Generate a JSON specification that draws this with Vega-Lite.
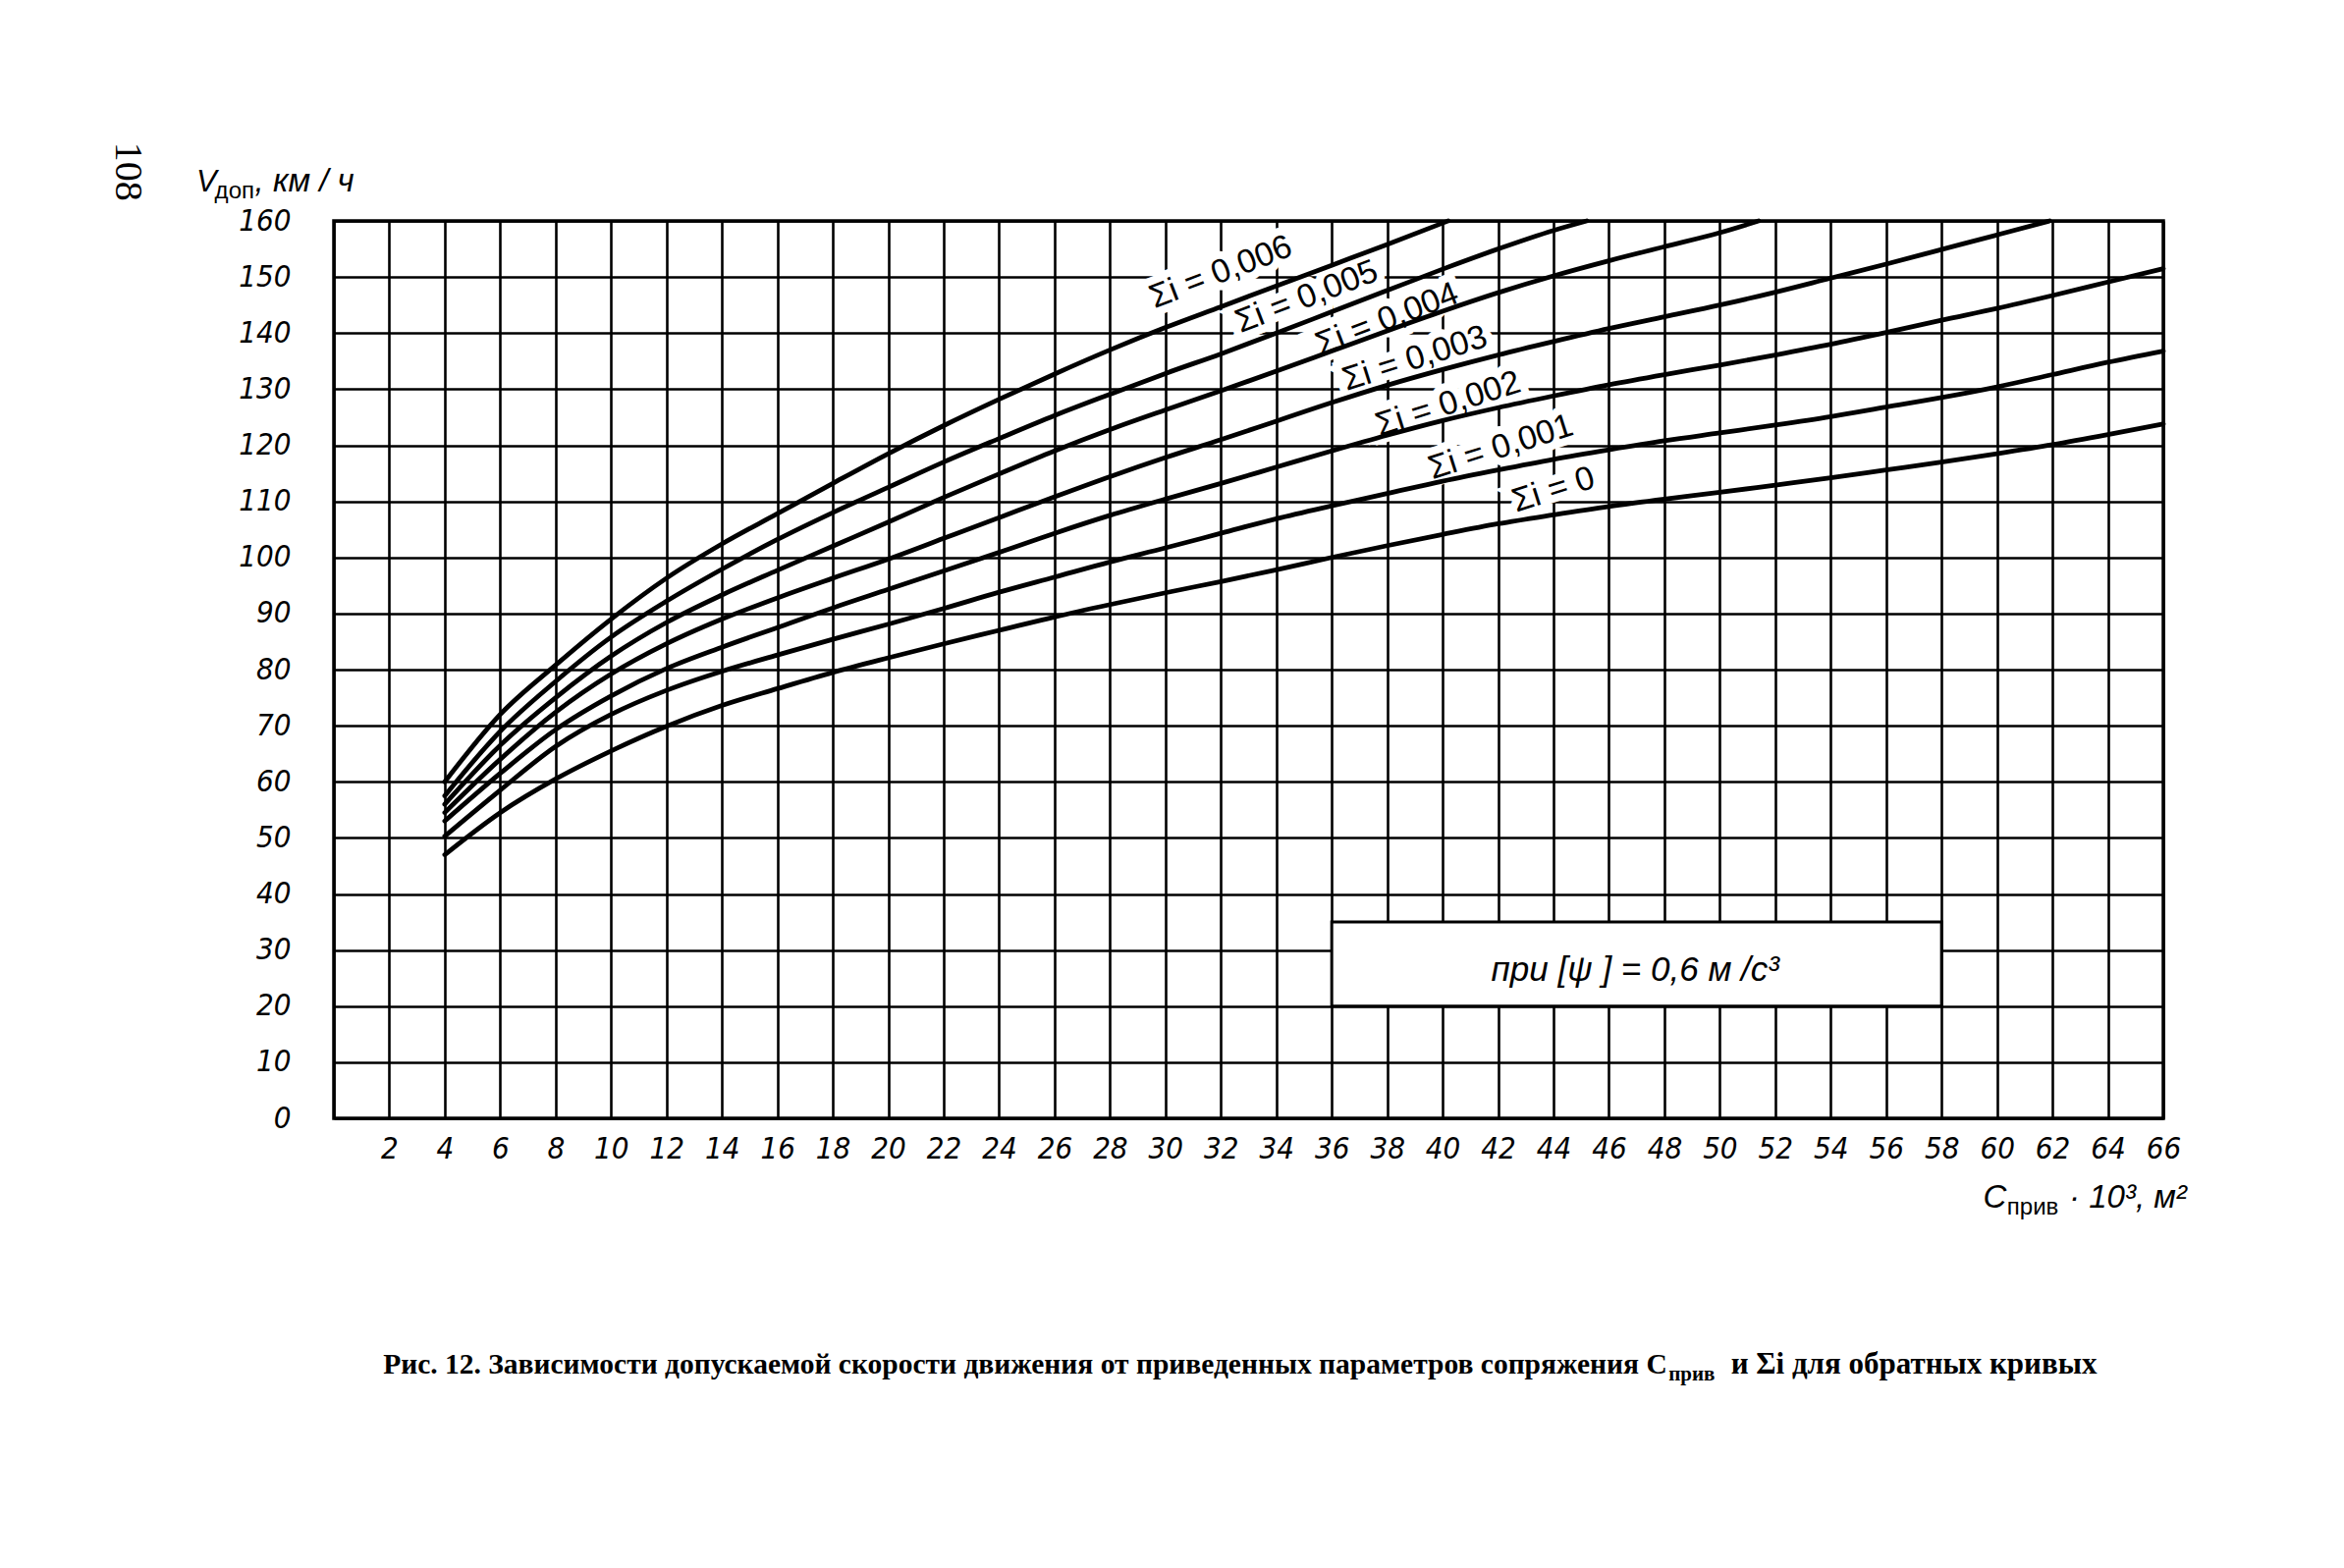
{
  "$schema": "https://vega.github.io/schema/vega-lite/v6.json",
  "width": 1863,
  "height": 914,
  "autosize": {"type": "none"},
  "padding": {"left": 340, "top": 225, "right": 184, "bottom": 458},
  "background": "white",
  "config": {
    "view": {"stroke": "black", "strokeWidth": 3.5},
    "text": {"color": "black"},
    "axis": {
      "grid": true, "gridColor": "black", "gridWidth": 2.6, "gridOpacity": 1,
      "ticks": false, "domain": false,
      "labelFont": "Liberation Sans Narrow, DejaVu Sans Condensed, Liberation Sans", "labelFontSize": 31, "labelFontStyle": "italic",
      "labelColor": "black", "labelFlush": false, "labelOverlap": false, "labelBound": false
    },
    "axisX": {"tickCount": 33, "labelPadding": 16, "labelExpr": "datum.value == 0 ? '' : datum.label"},
    "axisY": {"tickCount": 16, "labelPadding": 44}
  },
  "datasets": {
    "curves": [
      {"s":"0,006","c":4,"v":60},{"s":"0,006","c":6,"v":72},{"s":"0,006","c":8,"v":80.8},{"s":"0,006","c":10,"v":89},{"s":"0,006","c":12,"v":96.3},{"s":"0,006","c":14,"v":102.4},{"s":"0,006","c":16,"v":107.8},{"s":"0,006","c":18,"v":113.2},{"s":"0,006","c":20,"v":118.5},{"s":"0,006","c":22,"v":123.5},{"s":"0,006","c":24,"v":128.2},{"s":"0,006","c":26,"v":132.7},{"s":"0,006","c":28,"v":137},{"s":"0,006","c":30,"v":141},{"s":"0,006","c":32,"v":144.7},{"s":"0,006","c":34,"v":148.4},{"s":"0,006","c":36,"v":152.1},{"s":"0,006","c":38,"v":155.8},{"s":"0,006","c":40.2,"v":160},
      {"s":"0,005","c":4,"v":57.5},{"s":"0,005","c":6,"v":69},{"s":"0,005","c":8,"v":77.9},{"s":"0,005","c":10,"v":85.8},{"s":"0,005","c":12,"v":92.2},{"s":"0,005","c":14,"v":97.9},{"s":"0,005","c":16,"v":103.2},{"s":"0,005","c":18,"v":108},{"s":"0,005","c":20,"v":112.5},{"s":"0,005","c":22,"v":117},{"s":"0,005","c":24,"v":121.2},{"s":"0,005","c":26,"v":125.3},{"s":"0,005","c":28,"v":129.1},{"s":"0,005","c":30,"v":132.8},{"s":"0,005","c":32,"v":136.3},{"s":"0,005","c":34,"v":140},{"s":"0,005","c":36,"v":143.8},{"s":"0,005","c":38,"v":147.6},{"s":"0,005","c":40,"v":151.4},{"s":"0,005","c":42,"v":155},{"s":"0,005","c":44,"v":158.3},{"s":"0,005","c":45.2,"v":160},
      {"s":"0,004","c":4,"v":56},{"s":"0,004","c":6,"v":66.5},{"s":"0,004","c":8,"v":75},{"s":"0,004","c":10,"v":82.4},{"s":"0,004","c":12,"v":88.4},{"s":"0,004","c":14,"v":93.3},{"s":"0,004","c":16,"v":97.7},{"s":"0,004","c":18,"v":102},{"s":"0,004","c":20,"v":106.3},{"s":"0,004","c":22,"v":110.7},{"s":"0,004","c":24,"v":114.9},{"s":"0,004","c":26,"v":119},{"s":"0,004","c":28,"v":122.8},{"s":"0,004","c":30,"v":126.3},{"s":"0,004","c":32,"v":129.7},{"s":"0,004","c":34,"v":133.2},{"s":"0,004","c":36,"v":136.8},{"s":"0,004","c":38,"v":140.4},{"s":"0,004","c":40,"v":143.9},{"s":"0,004","c":42,"v":147.2},{"s":"0,004","c":44,"v":150.2},{"s":"0,004","c":46,"v":152.9},{"s":"0,004","c":48,"v":155.4},{"s":"0,004","c":50,"v":157.9},{"s":"0,004","c":51.4,"v":160},
      {"s":"0,003","c":4,"v":54.5},{"s":"0,003","c":6,"v":64},{"s":"0,003","c":8,"v":72.4},{"s":"0,003","c":10,"v":79.2},{"s":"0,003","c":12,"v":84.6},{"s":"0,003","c":14,"v":89},{"s":"0,003","c":16,"v":92.8},{"s":"0,003","c":18,"v":96.3},{"s":"0,003","c":20,"v":99.7},{"s":"0,003","c":22,"v":103.4},{"s":"0,003","c":24,"v":107.1},{"s":"0,003","c":26,"v":110.8},{"s":"0,003","c":28,"v":114.4},{"s":"0,003","c":30,"v":117.8},{"s":"0,003","c":32,"v":121},{"s":"0,003","c":34,"v":124.3},{"s":"0,003","c":36,"v":127.6},{"s":"0,003","c":38,"v":130.7},{"s":"0,003","c":40,"v":133.5},{"s":"0,003","c":42,"v":136.1},{"s":"0,003","c":44,"v":138.5},{"s":"0,003","c":46,"v":140.8},{"s":"0,003","c":48,"v":142.9},{"s":"0,003","c":50,"v":145},{"s":"0,003","c":52,"v":147.3},{"s":"0,003","c":54,"v":149.8},{"s":"0,003","c":56,"v":152.3},{"s":"0,003","c":58,"v":154.9},{"s":"0,003","c":60,"v":157.5},{"s":"0,003","c":61.9,"v":160},
      {"s":"0,002","c":4,"v":53},{"s":"0,002","c":6,"v":61.5},{"s":"0,002","c":8,"v":69.3},{"s":"0,002","c":10,"v":75.3},{"s":"0,002","c":12,"v":80.2},{"s":"0,002","c":14,"v":84},{"s":"0,002","c":16,"v":87.5},{"s":"0,002","c":18,"v":91},{"s":"0,002","c":20,"v":94.3},{"s":"0,002","c":22,"v":97.6},{"s":"0,002","c":24,"v":100.9},{"s":"0,002","c":26,"v":104.3},{"s":"0,002","c":28,"v":107.5},{"s":"0,002","c":30,"v":110.4},{"s":"0,002","c":32,"v":113.2},{"s":"0,002","c":34,"v":116.1},{"s":"0,002","c":36,"v":119},{"s":"0,002","c":38,"v":121.8},{"s":"0,002","c":40,"v":124.4},{"s":"0,002","c":42,"v":126.7},{"s":"0,002","c":44,"v":128.8},{"s":"0,002","c":46,"v":130.8},{"s":"0,002","c":48,"v":132.6},{"s":"0,002","c":50,"v":134.3},{"s":"0,002","c":52,"v":136.1},{"s":"0,002","c":54,"v":138},{"s":"0,002","c":56,"v":140.1},{"s":"0,002","c":58,"v":142.3},{"s":"0,002","c":60,"v":144.4},{"s":"0,002","c":62,"v":146.7},{"s":"0,002","c":64,"v":149.1},{"s":"0,002","c":66,"v":151.5},
      {"s":"0,001","c":4,"v":50.3},{"s":"0,001","c":6,"v":58.5},{"s":"0,001","c":8,"v":66.3},{"s":"0,001","c":10,"v":72},{"s":"0,001","c":12,"v":76.3},{"s":"0,001","c":14,"v":79.7},{"s":"0,001","c":16,"v":82.6},{"s":"0,001","c":18,"v":85.4},{"s":"0,001","c":20,"v":88.1},{"s":"0,001","c":22,"v":90.9},{"s":"0,001","c":24,"v":93.8},{"s":"0,001","c":26,"v":96.5},{"s":"0,001","c":28,"v":99.2},{"s":"0,001","c":30,"v":101.7},{"s":"0,001","c":32,"v":104.3},{"s":"0,001","c":34,"v":106.9},{"s":"0,001","c":36,"v":109.2},{"s":"0,001","c":38,"v":111.4},{"s":"0,001","c":40,"v":113.6},{"s":"0,001","c":42,"v":115.6},{"s":"0,001","c":44,"v":117.5},{"s":"0,001","c":46,"v":119.2},{"s":"0,001","c":48,"v":120.8},{"s":"0,001","c":50,"v":122.2},{"s":"0,001","c":52,"v":123.6},{"s":"0,001","c":54,"v":125.1},{"s":"0,001","c":56,"v":126.8},{"s":"0,001","c":58,"v":128.5},{"s":"0,001","c":60,"v":130.4},{"s":"0,001","c":62,"v":132.6},{"s":"0,001","c":64,"v":134.8},{"s":"0,001","c":66,"v":136.8},
      {"s":"0","c":4,"v":47},{"s":"0","c":6,"v":54.5},{"s":"0","c":8,"v":60.5},{"s":"0","c":10,"v":65.5},{"s":"0","c":12,"v":69.9},{"s":"0","c":14,"v":73.6},{"s":"0","c":16,"v":76.6},{"s":"0","c":18,"v":79.5},{"s":"0","c":20,"v":82.1},{"s":"0","c":22,"v":84.6},{"s":"0","c":24,"v":87},{"s":"0","c":26,"v":89.4},{"s":"0","c":28,"v":91.6},{"s":"0","c":30,"v":93.7},{"s":"0","c":32,"v":95.7},{"s":"0","c":34,"v":97.8},{"s":"0","c":36,"v":100},{"s":"0","c":38,"v":102.1},{"s":"0","c":40,"v":104.1},{"s":"0","c":42,"v":106},{"s":"0","c":44,"v":107.6},{"s":"0","c":46,"v":109.1},{"s":"0","c":48,"v":110.4},{"s":"0","c":50,"v":111.6},{"s":"0","c":52,"v":112.9},{"s":"0","c":54,"v":114.2},{"s":"0","c":56,"v":115.6},{"s":"0","c":58,"v":117},{"s":"0","c":60,"v":118.5},{"s":"0","c":62,"v":120.1},{"s":"0","c":64,"v":121.9},{"s":"0","c":66,"v":123.8}
    ],
    "labelsTop": [
      {"t":"Σi = 0,006","c":32.0,"v":150.8},
      {"t":"Σi = 0,005","c":35.1,"v":146.4},
      {"t":"Σi = 0,004","c":38,"v":142.4}
    ],
    "labelsLow": [
      {"t":"Σi = 0,003","c":39,"v":135.4},
      {"t":"Σi = 0,002","c":40.2,"v":127.3},
      {"t":"Σi = 0,001","c":42.1,"v":119.6},
      {"t":"Σi = 0","c":44,"v":112.0}
    ],
    "one": [{}]
  },
  "layer": [
    {
      "data": {"name": "one"},
      "mark": {"type": "rect", "fill": "white", "stroke": "black", "strokeWidth": 3},
      "encoding": {
        "x": {"datum": 36, "type": "quantitative", "axis": {"title": null}},
        "x2": {"datum": 58},
        "y": {"datum": 20, "type": "quantitative", "axis": {"title": null}},
        "y2": {"datum": 35}
      }
    },
    {
      "data": {"name": "labelsTop"},
      "mark": {"type": "text", "angle": -21, "font": "Liberation Sans", "fontSize": 34, "align": "center", "baseline": "middle", "color": "white", "stroke": "white", "strokeWidth": 16},
      "encoding": {
        "x": {"field": "c", "type": "quantitative", "axis": {"title": null}},
        "y": {"field": "v", "type": "quantitative", "axis": {"title": null}},
        "text": {"field": "t"}
      }
    },
    {
      "data": {"name": "labelsLow"},
      "mark": {"type": "text", "angle": -17.5, "font": "Liberation Sans", "fontSize": 34, "align": "center", "baseline": "middle", "color": "white", "stroke": "white", "strokeWidth": 16},
      "encoding": {
        "x": {"field": "c", "type": "quantitative", "axis": {"title": null}},
        "y": {"field": "v", "type": "quantitative", "axis": {"title": null}},
        "text": {"field": "t"}
      }
    },
    {
      "data": {"name": "curves"},
      "mark": {"type": "line", "interpolate": "monotone", "strokeWidth": 4.8, "color": "black", "strokeCap": "round"},
      "encoding": {
        "x": {"field": "c", "type": "quantitative", "scale": {"domain": [0, 66], "nice": false, "zero": false}, "axis": {"title": null}},
        "y": {"field": "v", "type": "quantitative", "scale": {"domain": [0, 160], "nice": false, "zero": true}, "axis": {"title": null}},
        "detail": {"field": "s", "type": "nominal"}
      }
    },
    {
      "data": {"name": "labelsTop"},
      "mark": {"type": "text", "angle": -21, "font": "Liberation Sans", "fontSize": 34, "align": "center", "baseline": "middle", "color": "black"},
      "encoding": {
        "x": {"field": "c", "type": "quantitative", "axis": {"title": null}},
        "y": {"field": "v", "type": "quantitative", "axis": {"title": null}},
        "text": {"field": "t"}
      }
    },
    {
      "data": {"name": "labelsLow"},
      "mark": {"type": "text", "angle": -17.5, "font": "Liberation Sans", "fontSize": 34, "align": "center", "baseline": "middle", "color": "black"},
      "encoding": {
        "x": {"field": "c", "type": "quantitative", "axis": {"title": null}},
        "y": {"field": "v", "type": "quantitative", "axis": {"title": null}},
        "text": {"field": "t"}
      }
    },
    {
      "data": {"name": "one"},
      "mark": {"type": "text", "font": "Liberation Sans", "fontSize": 35, "fontStyle": "italic", "align": "center", "baseline": "middle"},
      "encoding": {
        "x": {"datum": 46.95, "type": "quantitative", "axis": {"title": null}},
        "y": {"datum": 26.5, "type": "quantitative", "axis": {"title": null}},
        "text": {"value": "при [ψ ] = 0,6 м /с³"}
      }
    },
    {
      "data": {"name": "one"},
      "mark": {"type": "text", "font": "Liberation Sans", "fontSize": 31, "fontStyle": "italic", "align": "left", "baseline": "alphabetic"},
      "encoding": {
        "x": {"datum": -4.96, "type": "quantitative", "axis": {"title": null}},
        "y": {"datum": 165.3, "type": "quantitative", "axis": {"title": null}},
        "text": {"value": "V"}
      }
    },
    {
      "data": {"name": "one"},
      "mark": {"type": "text", "font": "Liberation Sans", "fontSize": 24, "align": "left", "baseline": "alphabetic"},
      "encoding": {
        "x": {"datum": -4.3, "type": "quantitative", "axis": {"title": null}},
        "y": {"datum": 164.0, "type": "quantitative", "axis": {"title": null}},
        "text": {"value": "доп"}
      }
    },
    {
      "data": {"name": "one"},
      "mark": {"type": "text", "font": "Liberation Sans", "fontSize": 33, "fontStyle": "italic", "align": "left", "baseline": "alphabetic"},
      "encoding": {
        "x": {"datum": -2.85, "type": "quantitative", "axis": {"title": null}},
        "y": {"datum": 165.3, "type": "quantitative", "axis": {"title": null}},
        "text": {"value": ", км / ч"}
      }
    },
    {
      "data": {"name": "one"},
      "mark": {"type": "text", "font": "Liberation Sans", "fontSize": 33, "fontStyle": "italic", "align": "left", "baseline": "alphabetic"},
      "encoding": {
        "x": {"datum": 59.5, "type": "quantitative", "axis": {"title": null}},
        "y": {"datum": -15.9, "type": "quantitative", "axis": {"title": null}},
        "text": {"value": "C"}
      }
    },
    {
      "data": {"name": "one"},
      "mark": {"type": "text", "font": "Liberation Sans", "fontSize": 24, "align": "left", "baseline": "alphabetic"},
      "encoding": {
        "x": {"datum": 60.36, "type": "quantitative", "axis": {"title": null}},
        "y": {"datum": -17.2, "type": "quantitative", "axis": {"title": null}},
        "text": {"value": "прив"}
      }
    },
    {
      "data": {"name": "one"},
      "mark": {"type": "text", "font": "Liberation Sans", "fontSize": 33, "fontStyle": "italic", "align": "left", "baseline": "alphabetic"},
      "encoding": {
        "x": {"datum": 62.6, "type": "quantitative", "axis": {"title": null}},
        "y": {"datum": -15.9, "type": "quantitative", "axis": {"title": null}},
        "text": {"value": "· 10³, м²"}
      }
    },
    {
      "data": {"name": "one"},
      "mark": {"type": "text", "font": "Liberation Serif", "fontSize": 29.5, "fontWeight": "bold", "align": "right", "baseline": "alphabetic"},
      "encoding": {
        "x": {"datum": 48.1, "type": "quantitative", "axis": {"title": null}},
        "y": {"datum": -45.5, "type": "quantitative", "axis": {"title": null}},
        "text": {"value": "Рис. 12. Зависимости допускаемой скорости движения от приведенных параметров сопряжения C"}
      }
    },
    {
      "data": {"name": "one"},
      "mark": {"type": "text", "font": "Liberation Serif", "fontSize": 21, "fontWeight": "bold", "align": "left", "baseline": "alphabetic"},
      "encoding": {
        "x": {"datum": 48.15, "type": "quantitative", "axis": {"title": null}},
        "y": {"datum": -46.8, "type": "quantitative", "axis": {"title": null}},
        "text": {"value": "прив"}
      }
    },
    {
      "data": {"name": "one"},
      "mark": {"type": "text", "font": "Liberation Serif", "fontSize": 31, "fontWeight": "bold", "align": "left", "baseline": "alphabetic"},
      "encoding": {
        "x": {"datum": 50.4, "type": "quantitative", "axis": {"title": null}},
        "y": {"datum": -45.5, "type": "quantitative", "axis": {"title": null}},
        "text": {"value": "и Σi для обратных кривых"}
      }
    },
    {
      "data": {"name": "one"},
      "mark": {"type": "text", "font": "Liberation Serif", "fontSize": 40, "angle": 90, "align": "center", "baseline": "middle"},
      "encoding": {
        "x": {"datum": -7.44, "type": "quantitative", "axis": {"title": null}},
        "y": {"datum": 168.8, "type": "quantitative", "axis": {"title": null}},
        "text": {"value": "108"}
      }
    }
  ]
}
